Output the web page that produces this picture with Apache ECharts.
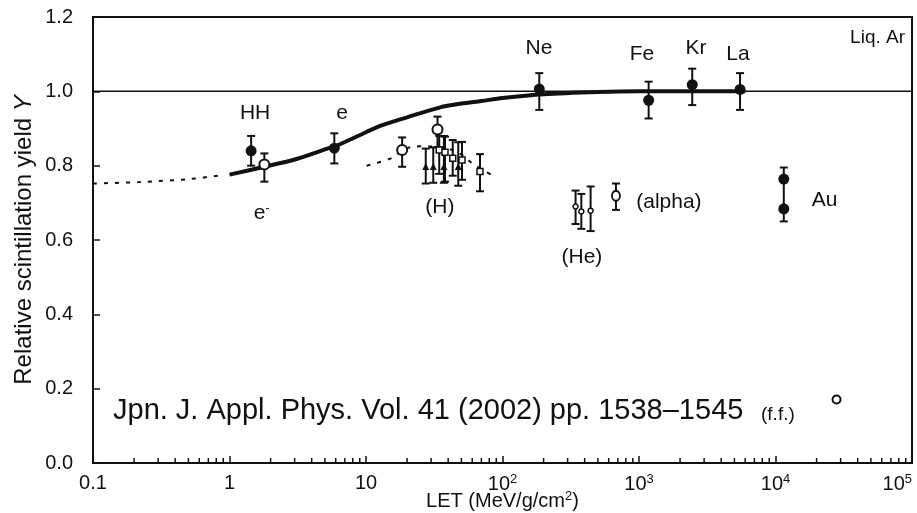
<!DOCTYPE html>
<html><head><meta charset="utf-8">
<script src="https://cdn.jsdelivr.net/npm/echarts@6/dist/echarts.min.js"></script>
<style>html,body{margin:0;padding:0;background:#fff}#c{width:917px;height:513px}</style>
</head><body><div id="c"></div>
<script>
// ---------- data ----------
const xMin = 0.1, xMax = 100000;
const yMin = 0, yMax = 1.2, yStep = 0.2;
const minorTickMantissas = [2,3,4,5,6,7,8,9];

// thick solid model curve
const curveX = [1, 1.8, 3.1, 5.15, 6.1, 10, 12.7, 20, 35, 50, 70, 100, 200, 500, 1000, 6000];
const curveY = [0.776, 0.797, 0.818, 0.845, 0.854, 0.89, 0.907, 0.93, 0.957, 0.967, 0.974, 0.982, 0.992, 0.998, 1.0, 1.0];
// dotted extrapolation (low LET)
const dotLowX = [0.1, 0.22, 0.51, 0.9];
const dotLowY = [0.752, 0.756, 0.764, 0.775];
// dotted curve through proton data
const dotHX = [10.1, 15.8, 18.4, 24.9, 35, 50, 60.8, 88];
const dotHY = [0.80, 0.822, 0.842, 0.852, 0.85, 0.83, 0.805, 0.77];
// reference line Y = 1
const refX = [0.1, 100000];
const refY = [1.0, 1.0];

// filled circles: HH, e, Ne, Fe, Kr, La, Au, Au
const filledX = [1.44, 5.86, 186, 1177, 2455, 5500, 11500, 11500];
const filledY = [0.84, 0.847, 1.006, 0.976, 1.018, 1.005, 0.764, 0.684];
// large open circles: e-, H, H
const openX = [1.8, 18.4, 33.4];
const openY = [0.803, 0.842, 0.897];
// alpha open circle
const alphaX = [678];
const alphaY = [0.719];
// small open circles (He)
const heX = [343, 378, 442];
const heY = [0.69, 0.677, 0.679];
// filled triangles (H)
const triX = [27.4, 31.1, 37.2, 47.4];
const triY = [0.798, 0.798, 0.798, 0.798];
// open squares (H)
const sqX = [34.4, 37.9, 43.2, 50.5, 68.4];
const sqY = [0.842, 0.836, 0.82, 0.815, 0.784];
// fission fragment
const ffX = [28000];
const ffY = [0.171];

// error bars
const errX  = [1.44, 1.8, 5.86, 18.4, 33.4, 27.4, 31.1, 37.2, 47.4, 34.4, 37.9, 43.2, 50.5, 68.4, 343, 378, 442, 678, 186, 1177, 2455, 5500, 11500];
const errLo = [0.80, 0.757, 0.806, 0.797, 0.85, 0.752, 0.754, 0.754, 0.746, 0.778, 0.757, 0.773, 0.762, 0.731, 0.643, 0.63, 0.624, 0.681, 0.95, 0.927, 0.963, 0.95, 0.65];
const errHi = [0.88, 0.833, 0.887, 0.876, 0.932, 0.846, 0.849, 0.88, 0.863, 0.88, 0.878, 0.869, 0.864, 0.831, 0.733, 0.724, 0.744, 0.752, 1.049, 1.026, 1.061, 1.049, 0.795];

// annotations
const annText  = ['HH', 'e', '{b|e}{s|-}', '(H)', 'Ne', 'Fe', 'Kr', 'La', '(He)', '(alpha)', 'Au'];
const annX     = [1.54, 6.67, 1.72, 34.8, 185, 1052, 2618, 5309, 382, 954, 18400];
const annY     = [0.942, 0.942, 0.671, 0.688, 1.117, 1.101, 1.117, 1.101, 0.553, 0.703, 0.706];
const annAlign = ['center','center','center','center','center','center','center','center','center','left','left'];

// ---------- chart ----------
const FONT = 'Liberation Sans, Arial, Helvetica, sans-serif';
const INK = '#111';
const zip = (a, b) => a.map((v, i) => [v, b[i]]);

const minorTicks = [];
for (let k = -1; k < 5; k++) minorTickMantissas.forEach(m => minorTicks.push([m * Math.pow(10, k), 0]));

const chart = echarts.init(document.getElementById('c'), null, {renderer: 'canvas'});

function supLabel(v) {
  const e = Math.round(Math.log10(v));
  if (e === -1) return '0.1';
  if (e === 0) return '1';
  if (e === 1) return '10';
  return '{b|10}{s|' + e + '}';
}

const option = {
  animation: false,
  backgroundColor: '#fff',
  grid: {left: 93, right: 5, top: 17, bottom: 50, containLabel: false, outerBoundsMode: 'none',
         show: true, borderColor: INK, borderWidth: 2, backgroundColor: 'transparent'},
  xAxis: {
    type: 'log', logBase: 10, min: xMin, max: xMax, interval: 1,
    axisLine: {show: true, lineStyle: {color: INK, width: 2}},
    axisTick: {show: true, inside: true, length: 7, lineStyle: {color: INK, width: 1.5}},
    splitLine: {show: false},
    axisLabel: {
      margin: 10, color: INK, fontFamily: FONT, fontSize: 20, alignMaxLabel: 'right',
      formatter: supLabel,
      rich: {
        b: {fontFamily: FONT, fontSize: 20, color: INK},
        s: {fontFamily: FONT, fontSize: 13, color: INK, verticalAlign: 'top', padding: [0, 0, 10, 0]}
      }
    },
    name: '{n|LET (MeV/g/cm}{s|2}{n|)}',
    nameLocation: 'middle', nameGap: 27, nameMoveOverlap: false,
    nameTextStyle: {
      rich: {
        n: {fontFamily: FONT, fontSize: 20, color: INK},
        s: {fontFamily: FONT, fontSize: 13, color: INK, verticalAlign: 'top', padding: [0, 0, 10, 0]}
      }
    }
  },
  yAxis: {
    type: 'value', min: yMin, max: yMax, interval: yStep,
    axisLine: {show: true, lineStyle: {color: INK, width: 2}},
    axisTick: {show: true, inside: true, length: 7, lineStyle: {color: INK, width: 1.5}},
    splitLine: {show: false},
    axisLabel: {margin: 20, color: INK, fontFamily: FONT, fontSize: 20, formatter: v => v.toFixed(1)},
    name: '{n|Relative scintillation yield }{i|Y}',
    nameLocation: 'middle', nameGap: 57, nameRotate: 90, nameMoveOverlap: false,
    nameTextStyle: {
      rich: {
        n: {fontFamily: FONT, fontSize: 24, color: INK},
        i: {fontFamily: FONT, fontSize: 24, color: INK, fontStyle: 'italic'}
      }
    }
  },
  graphic: [
    {type: 'text', right: 12, top: 28, style: {text: 'Liq. Ar', fontFamily: FONT, fontSize: 19, fill: INK}},
    {type: 'text', left: 113, top: 396, style: {text: 'Jpn. J. Appl. Phys. Vol. 41 (2002) pp. 1538\u20131545', fontFamily: FONT, fontSize: 29, fill: INK}},
    {type: 'text', left: 761, top: 405, style: {text: '(f.f.)', fontFamily: FONT, fontSize: 19, fill: INK}}
  ],
  series: [
    {type: 'custom', name: 'minorTicks', data: minorTicks, silent: true, z: 3,
      renderItem: (params, api) => {
        const p = api.coord([api.value(0), api.value(1)]);
        return {type: 'line', shape: {x1: p[0], y1: p[1], x2: p[0], y2: p[1] - 5}, style: {stroke: INK, lineWidth: 1.5}};
      }},
    {type: 'line', name: 'ref', data: zip(refX, refY), showSymbol: false, lineStyle: {color: INK, width: 1.5}, z: 2},
    {type: 'line', name: 'curve', data: zip(curveX, curveY), showSymbol: false, smooth: 0.3, lineStyle: {color: INK, width: 4}, z: 3},
    {type: 'line', name: 'dotLow', data: zip(dotLowX, dotLowY), showSymbol: false, smooth: 0.3, lineStyle: {color: INK, width: 2, type: [4, 7]}, z: 3},
    {type: 'line', name: 'dotH', data: zip(dotHX, dotHY), showSymbol: false, smooth: 0.4, lineStyle: {color: INK, width: 2, type: [4, 7]}, z: 3},
    {type: 'custom', name: 'errors', data: errX.map((x, i) => [x, errLo[i], errHi[i]]), z: 4,
      renderItem: (params, api) => {
        const x = api.value(0);
        const a = api.coord([x, api.value(1)]);
        const b = api.coord([x, api.value(2)]);
        const w = 4;
        const st = {stroke: INK, lineWidth: 2};
        return {type: 'group', children: [
          {type: 'line', shape: {x1: a[0], y1: a[1], x2: b[0], y2: b[1]}, style: st},
          {type: 'line', shape: {x1: a[0] - w, y1: a[1], x2: a[0] + w, y2: a[1]}, style: st},
          {type: 'line', shape: {x1: b[0] - w, y1: b[1], x2: b[0] + w, y2: b[1]}, style: st}
        ]};
      }},
    {type: 'scatter', name: 'filled', data: zip(filledX, filledY), symbol: 'circle', symbolSize: 11, itemStyle: {color: INK, opacity: 1}, z: 5},
    {type: 'scatter', name: 'open', data: zip(openX, openY), symbol: 'circle', symbolSize: 10, itemStyle: {color: '#fff', borderColor: INK, borderWidth: 2, opacity: 1}, z: 5},
    {type: 'scatter', name: 'alpha', data: zip(alphaX, alphaY), symbol: 'circle', symbolSize: [8, 10], itemStyle: {color: '#fff', borderColor: INK, borderWidth: 2, opacity: 1}, z: 5},
    {type: 'scatter', name: 'He', data: zip(heX, heY), symbol: 'circle', symbolSize: 5, itemStyle: {color: '#fff', borderColor: INK, borderWidth: 1.5, opacity: 1}, z: 5},
    {type: 'scatter', name: 'tri', data: zip(triX, triY), symbol: 'triangle', symbolSize: 7, itemStyle: {color: INK, opacity: 1}, z: 5},
    {type: 'scatter', name: 'sq', data: zip(sqX, sqY), symbol: 'rect', symbolSize: 6, itemStyle: {color: '#fff', borderColor: INK, borderWidth: 1.5, opacity: 1}, z: 5},
    {type: 'scatter', name: 'ff', data: zip(ffX, ffY), symbol: 'circle', symbolSize: 8, itemStyle: {color: '#fff', borderColor: INK, borderWidth: 2, opacity: 1}, z: 5},
    {type: 'scatter', name: 'annotations', symbolSize: 0, silent: true, z: 6,
      itemStyle: {opacity: 1},
      data: annText.map((t, i) => ({value: [annX[i], annY[i]], name: t, label: {align: annAlign[i]}})),
      label: {
        show: true, position: 'inside', formatter: p => p.name, opacity: 1,
        fontFamily: FONT, fontSize: 21, color: INK, verticalAlign: 'middle',
        rich: {
          b: {fontFamily: FONT, fontSize: 21, color: INK},
          s: {fontFamily: FONT, fontSize: 13, color: INK, verticalAlign: 'top', padding: [0, 0, 10, 0]}
        }
      }}
  ]
};
chart.setOption(option);
</script>
</body></html>
